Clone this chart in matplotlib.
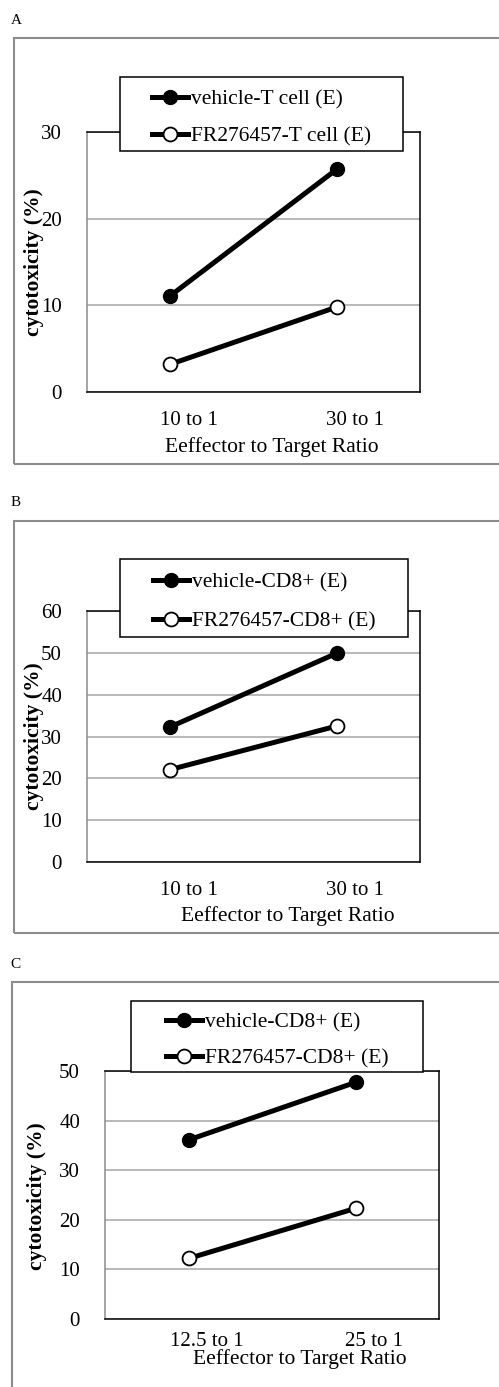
import matplotlib
matplotlib.use("Agg")
import matplotlib.pyplot as plt
from matplotlib.patches import Rectangle

W, H = 499, 1387

# data
ratios_ab = ["10 to 1", "30 to 1"]
ratios_c = ["12.5 to 1", "25 to 1"]
vehicle_t = [11.1, 25.7]
fr_t = [3.2, 9.8]
vehicle_cd8_b = [32.3, 49.9]
fr_cd8_b = [22.1, 32.5]
vehicle_cd8_c = [36.1, 47.7]
fr_cd8_c = [12.2, 22.3]
labels_a = ["vehicle-T cell (E)", "FR276457-T cell (E)"]
labels_bc = ["vehicle-CD8+ (E)", "FR276457-CD8+ (E)"]
yticks_a = [0, 10, 20, 30]
yticks_b = [0, 10, 20, 30, 40, 50, 60]
yticks_c = [0, 10, 20, 30, 40, 50]

plt.rcParams['font.family'] = ['Liberation Serif', 'DejaVu Serif']
FS = 15.5


def fx(px):
    return px / W


def fy(py):
    return 1 - py / H


def panel(fig, p):
    # outer gray frame (open on the right)
    l, t, b = p['frame']
    fig.add_artist(Rectangle((fx(l), fy(b)), fx(W + 20 - l), fy(t) - fy(b),
                             transform=fig.transFigure, fill=False,
                             edgecolor='#8c8c8c', linewidth=1.5, zorder=0))
    fig.text(fx(p['letter'][0]), fy(p['letter'][1]), p['name'], fontsize=11,
             ha='left', va='center')

    al, ar, at, ab = p['axes']
    ax = fig.add_axes([fx(al), fy(ab), fx(ar) - fx(al), fy(at) - fy(ab)])
    x = range(len(p['cats']))
    ax.plot(x, p['s1'], '-o', color='black', lw=3.6, ms=10, mfc='black',
            mec='black', mew=1, zorder=3, label=p['labels'][0])
    ax.plot(x, p['s2'], '-o', color='black', lw=3.6, ms=10, mfc='white',
            mec='black', mew=1.3, zorder=3, label=p['labels'][1])
    ax.set_xlim(-0.5, 1.5)
    ax.set_ylim(0, p['yticks'][-1])
    ax.set_yticks(p['yticks'])
    ax.set_yticks([0], minor=True)
    ax.yaxis.grid(True, color='#a6a6a6', lw=1.1)
    ax.set_axisbelow(True)
    ax.tick_params(axis='y', which='major', length=0, pad=18, labelsize=15)
    ax.tick_params(axis='y', which='minor', length=5, color='#8c8c8c', width=1)
    ax.set_xticks([i + 0.11 for i in x])
    ax.set_xticklabels(p['cats'])
    ax.tick_params(axis='x', length=0, pad=p['xpad'], labelsize=15)
    for side in ['top', 'right', 'bottom']:
        ax.spines[side].set_color('black')
        ax.spines[side].set_linewidth(1.1)
    ax.spines['left'].set_color('#8c8c8c')
    ax.spines['left'].set_linewidth(1.1)

    fig.text(fx(p['xlab'][0]), fy(p['xlab'][1]), "Eeffector to Target Ratio",
             fontsize=FS, ha='center', va='baseline')
    fig.text(fx(p['ylab'][0]), fy(p['ylab'][1]), "cytotoxicity (%)",
             fontsize=FS, fontweight='bold', rotation=90, ha='center', va='center')

    # legend box sits over the top of the plot area
    ll, lr, lt, lb = p['legend']
    fig.add_artist(Rectangle((fx(ll), fy(lb)), fx(lr) - fx(ll), fy(lt) - fy(lb),
                             transform=fig.transFigure, facecolor='white',
                             edgecolor='black', linewidth=1.1, zorder=4))
    handles, labs = ax.get_legend_handles_labels()
    leg = fig.legend(handles, labs, loc='center',
                     bbox_to_anchor=(fx((ll + lr) / 2), fy((lt + lb) / 2 + 4)),
                     bbox_transform=fig.transFigure, frameon=False,
                     fontsize=FS, handlelength=1.7, handletextpad=0.12,
                     labelspacing=p['lspace'], borderpad=0)
    leg.set_zorder(5)


panels = [
    dict(name='A', frame=(14, 38, 464), letter=(11, 21),
         axes=(87, 420, 132, 392), legend=(120, 403, 77, 151), lspace=0.78,
         cats=ratios_ab, s1=vehicle_t, s2=fr_t, labels=labels_a, xpad=13.5,
         yticks=yticks_a, xlab=(272, 452), ylab=(34, 262)),
    dict(name='B', frame=(14, 521, 933), letter=(11, 503),
         axes=(87, 420, 611, 862), legend=(120, 408, 559, 637), lspace=0.88,
         cats=ratios_ab, s1=vehicle_cd8_b, s2=fr_cd8_b, labels=labels_bc, xpad=13.5,
         yticks=yticks_b, xlab=(288, 921), ylab=(34, 736)),
    dict(name='C', frame=(12, 982, H + 20), letter=(10, 964),
         axes=(105, 439, 1071, 1319), legend=(131, 423, 1001, 1072), lspace=0.78,
         cats=ratios_c, s1=vehicle_cd8_c, s2=fr_cd8_c, labels=labels_bc, xpad=9.5,
         yticks=yticks_c, xlab=(300, 1364), ylab=(37, 1196)),
]

fig = plt.figure(figsize=(W / 100, H / 100), dpi=100, facecolor='white')
for p in panels:
    panel(fig, p)

fig.savefig("out.png", dpi=100, facecolor='white')
